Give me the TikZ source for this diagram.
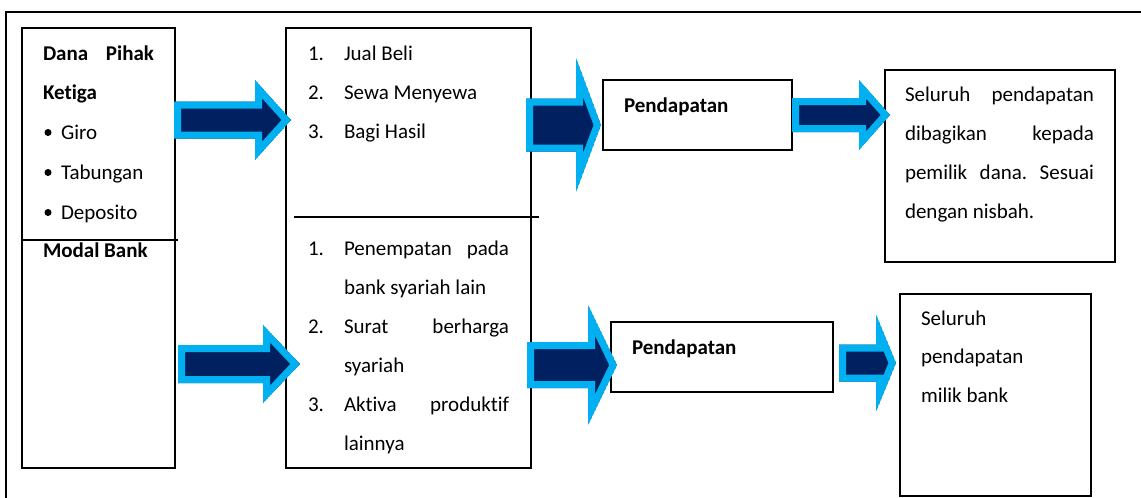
\documentclass[tikz,border=0pt]{standalone}
\usepackage{fontspec}
\setmainfont{Carlito}[Ligatures={NoCommon,NoContextual}]
\frenchspacing
\definecolor{skyline}{HTML}{00B0F0}
\definecolor{navyfill}{HTML}{002060}

% Block arrow with a light-blue rim and navy body.
% #1 tail x, #2 x of the head base, #3 tip x, #4 axis y,
% #5 half height of the shaft, #6 half height of the head
\newcommand{\blockarrow}[6]{%
  \begin{scope}
    \clip (#1,#4-#5) -- (#2,#4-#5) -- (#2,#4-#6) -- (#3,#4) -- (#2,#4+#6) -- (#2,#4+#5) -- (#1,#4+#5) -- cycle;
    \fill[navyfill] (#1,#4-#5) -- (#2,#4-#5) -- (#2,#4-#6) -- (#3,#4) -- (#2,#4+#6) -- (#2,#4+#5) -- (#1,#4+#5) -- cycle;
    \draw[skyline, line width=14pt, line join=miter]
      (#1,#4-#5) -- (#2,#4-#5) -- (#2,#4-#6) -- (#3,#4) -- (#2,#4+#6) -- (#2,#4+#5) -- (#1,#4+#5) -- cycle;
  \end{scope}}

\begin{document}
\begin{tikzpicture}[x=1pt, y=-1pt,
  font=\fontsize{21pt}{39pt}\selectfont,
  box/.style={draw, line width=1.5pt, anchor=north west, inner sep=0pt, outer sep=0pt},
  txt/.style={anchor=base west, inner sep=0pt, outer sep=0pt},
  dot/.style={circle, fill, inner sep=0pt, minimum size=7pt},
  rule/.style={line width=1.5pt}]
\useasboundingbox (0,0) rectangle (1141,498);

% surrounding frame
\begin{scope}
  \clip (0,0) rectangle (1141,498);
  \node[box, minimum width=1170pt, minimum height=520pt] (frame) at (6,12) {};
\end{scope}

% boxes
\node[box, minimum width=153pt, minimum height=440pt] (src) at (22,28) {};
\node[box, minimum width=245pt, minimum height=440pt] (use) at (286,28) {};
\node[box, minimum width=189pt, minimum height=70pt] (inc1) at (603,80) {};
\node[box, minimum width=230pt, minimum height=192pt] (dist1) at (885,70) {};
\node[box, minimum width=222pt, minimum height=70pt] (inc2) at (611,322) {};
\node[box, minimum width=191pt, minimum height=202pt] (dist2) at (900,294) {};

% dividers
\draw[rule] (22,240) -- (178,240);
\draw[rule] (294,217) -- (539,217);

% sources of funds
\node[txt] (dph) at (43,60) {\bfseries\makebox[111pt][s]{Dana Pihak}};
\node[txt] (ktg) at (43,99) {\bfseries Ketiga};
\node[dot] (d1) at (48,132.5) {};
\node[txt] (giro) at (61,139) {Giro};
\node[dot] (d2) at (48,172.5) {};
\node[txt] (tab) at (61,179) {Tabungan};
\node[dot] (d3) at (48,212.5) {};
\node[txt] (dep) at (61,219) {Deposito};
\node[txt] (modal) at (43,257) {\bfseries Modal Bank};

% uses of funds, upper part
\node[txt] (n1) at (308,60) {1.};
\node[txt] (jb) at (344,60) {Jual Beli};
\node[txt] (n2) at (308,99) {2.};
\node[txt] (sm) at (344,99) {Sewa Menyewa};
\node[txt] (n3) at (308,138) {3.};
\node[txt] (bh) at (344,138) {Bagi Hasil};

% uses of funds, lower part
\node[txt] (m1) at (308,255) {1.};
\node[txt] (pp) at (344,255) {\makebox[165pt][s]{Penempatan pada}};
\node[txt] (bsl) at (344,294) {bank syariah lain};
\node[txt] (m2) at (308,333) {2.};
\node[txt] (sb) at (344,333) {\makebox[165pt][s]{Surat berharga}};
\node[txt] (sy) at (344,372) {syariah};
\node[txt] (m3) at (308,411) {3.};
\node[txt] (ap) at (344,411) {\makebox[165pt][s]{Aktiva produktif}};
\node[txt] (ln) at (344,450) {lainnya};

% income
\node[txt] (p1) at (624,112) {\bfseries Pendapatan};
\node[txt] (p2) at (632,354) {\bfseries Pendapatan};

% distribution
\node[txt] (r1) at (905,101) {\makebox[189pt][s]{Seluruh pendapatan}};
\node[txt] (r2) at (905,140) {\makebox[189pt][s]{dibagikan kepada}};
\node[txt] (r3) at (905,179) {\makebox[189pt][s]{pemilik dana. Sesuai}};
\node[txt] (r4) at (905,218) {dengan nisbah.};
\node[txt] (s1) at (921,325) {Seluruh};
\node[txt] (s2) at (921,363.5) {pendapatan};
\node[txt] (s3) at (921,402) {milik bank};

% flow arrows
\blockarrow{174}{255}{291}{120}{18.5}{40}
\blockarrow{178}{263}{300}{364}{19}{39}
\blockarrow{526}{576}{601}{125}{26.5}{67}
\blockarrow{792}{859}{890}{115}{17}{35}
\blockarrow{527}{588}{617}{365}{23}{60}
\blockarrow{839}{876}{896}{363}{18.5}{48.5}
\end{tikzpicture}
\end{document}
